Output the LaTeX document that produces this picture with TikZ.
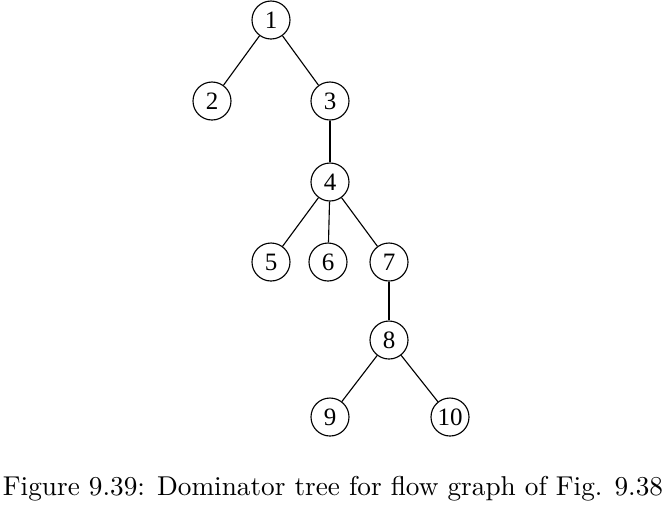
\documentclass[tikz,border=0pt]{standalone}
\usepackage{fontspec}
\newfontfamily\nodefont{Liberation Serif}
\usepackage{tikz}

\tikzset{vert/.style={draw,circle,inner sep=0pt,minimum size=15.2pt,line width=0.45pt,font=\nodefont}}

\begin{document}
\begin{tikzpicture}[x=0.4pt,y=-0.4pt,line width=0.45pt]
  \useasboundingbox (0,0) rectangle (665,509);
  % dominator tree
  \node[vert] (n1) at (271,20) {1};
  \node[vert] (n2) at (212,101) {2};
  \node[vert] (n3) at (330,101) {3};
  \node[vert] (n4) at (330,182) {4};
  \node[vert] (n5) at (271,262) {5};
  \node[vert] (n6) at (328,262) {6};
  \node[vert] (n7) at (389,262) {7};
  \node[vert] (n8) at (389,340) {8};
  \node[vert] (n9) at (330,417) {9};
  \node[vert] (n10) at (450,417) {10};
  \draw (n1) -- (n2);
  \draw (n1) -- (n3);
  \draw (n3) -- (n4);
  \draw (n4) -- (n5);
  \draw (n4) -- (n6);
  \draw (n4) -- (n7);
  \draw (n7) -- (n8);
  \draw (n8) -- (n9);
  \draw (n8) -- (n10);
  \node[font=\fontsize{10.9}{13}\selectfont] (cap) at (333,489) {Figure 9.39: Dominator tree for flow graph of Fig. 9.38};
\end{tikzpicture}
\end{document}
